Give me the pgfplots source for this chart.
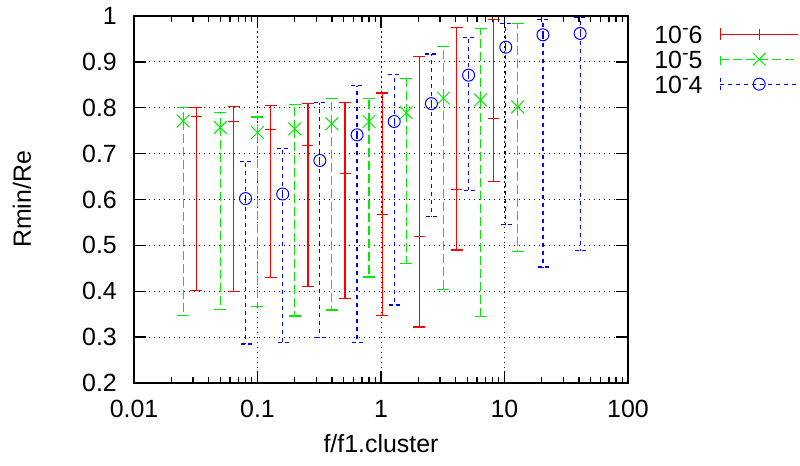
\documentclass[border=0pt]{standalone}
\usepackage{fontspec}
\setmainfont{Liberation Sans}
\usepackage{pgfplots}
\usepackage{pgfplotstable}
\pgfplotsset{compat=1.18}
\newcommand\fs{\fontsize{25}{30}\selectfont}
\newcommand\gpsup{\raisebox{0.36em}{\fontsize{20}{24}\selectfont -}}
\definecolor{gpgreen}{RGB}{0,235,0}
\pgfplotstableread{
x y lo hi
0.032 0.780 0.401 0.800
0.064 0.769 0.399 0.803
0.128 0.753 0.430 0.805
0.256 0.717 0.411 0.809
0.512 0.657 0.385 0.812
1.024 0.567 0.348 0.832
2.048 0.520 0.322 0.911
4.096 0.622 0.490 0.975
8.192 0.777 0.640 0.992
}\redtab
\pgfplotstableread{
x y lo hi
0.025 0.771 0.347 0.800
0.05 0.757 0.361 0.790
0.1 0.746 0.367 0.780
0.2 0.754 0.346 0.807
0.4 0.765 0.359 0.821
0.8 0.770 0.431 0.821
1.6 0.789 0.460 0.863
3.2 0.821 0.403 0.933
6.4 0.817 0.345 0.972
12.8 0.802 0.487 0.984
}\greentab
\pgfplotstableread{
x y lo hi
0.08 0.602 0.285 0.682
0.16 0.612 0.289 0.712
0.32 0.685 0.299 0.811
0.64 0.741 0.288 0.848
1.28 0.770 0.370 0.872
2.56 0.809 0.563 0.917
5.12 0.871 0.620 0.953
10.24 0.932 0.545 0.983
20.48 0.959 0.453 0.993
40.96 0.962 0.488 0.996
}\bluetab
\begin{document}
\begin{tikzpicture}[font=\fs]
\begin{axis}[
  scale only axis, width=494bp, height=367bp,
  xmode=log, xmin=0.01, xmax=100, ymin=0.2, ymax=1,
  xtick={0.01,0.1,1,10,100}, xticklabels={0.01,0.1,1,10,100},
  minor xtick={0.02,0.03,0.04,0.05,0.06,0.07,0.08,0.09,0.2,0.3,0.4,0.5,0.6,0.7,0.8,0.9,2,3,4,5,6,7,8,9,20,30,40,50,60,70,80,90},
  ytick={0.2,0.3,0.4,0.5,0.6,0.7,0.8,0.9,1}, yticklabels={0.2,0.3,0.4,0.5,0.6,0.7,0.8,0.9,1},
  grid=major, major grid style={black, line width=0.8bp, dash pattern=on 1.5bp off 3.5bp},
  axis line style={black, line width=1.6bp},
  major tick length=12bp, minor tick length=6bp,
  every tick/.style={black, line width=1.3bp},
  tick label style={font=\fs, inner sep=0pt},
  xticklabel style={yshift=-17bp}, yticklabel style={xshift=-17bp},
  every axis x label/.style={at={(rel axis cs:0.5,0)}, anchor=base, yshift=-69bp, inner sep=0pt, font=\fs},
  every axis y label/.style={at={(rel axis cs:0,0.5)}, rotate=90, anchor=base, yshift=103bp, inner sep=0pt, font=\fs},
  xlabel={f/f1.cluster}, ylabel={Rmin/Re},
  clip=false,
  legend plot pos=right, legend cell align=right,
  legend image code/.code={\draw[#1, sharp plot, mark repeat=2, mark phase=2] plot coordinates {(0bp,0bp) (39bp,0bp) (78bp,0bp)}; \draw[#1] (0bp,-6bp) -- (0bp,6bp);},
  legend style={draw=none, fill=none, at={(1.047,0.981)}, anchor=north west, font=\fs,
    row sep=7bp, column sep=17bp, nodes={inner sep=0pt, text height=18bp, text depth=0pt}},
]
\addplot[color=red, line width=1.2bp, only marks, mark=+, mark size=5.5bp, mark options={solid, line width=1bp},
  error bars/.cd, y dir=both, y explicit,
  error bar style={line width=1.2bp, solid},
  error mark options={rotate=90, mark size=6bp, line width=1.2bp, solid}]
  table[x=x, y=y, y error plus expr=\thisrow{hi}-\thisrow{y}, y error minus expr=\thisrow{y}-\thisrow{lo}] {\redtab};
\addlegendentry{10\gpsup6}
\addplot[color=gpgreen, line width=1.2bp, dash pattern=on 9bp off 4bp, only marks, mark=x, mark size=9bp, mark options={solid, line width=1bp},
  error bars/.cd, y dir=both, y explicit,
  error bar style={line width=1.2bp, dash pattern=on 9bp off 4bp},
  error mark options={rotate=90, mark size=6bp, line width=1.2bp, solid}]
  table[x=x, y=y, y error plus expr=\thisrow{hi}-\thisrow{y}, y error minus expr=\thisrow{y}-\thisrow{lo}] {\greentab};
\addlegendentry{10\gpsup5}
\addplot[color=blue, line width=1.2bp, dash pattern=on 4bp off 4bp, only marks, mark=o, mark size=6bp, mark options={solid, line width=1bp},
  error bars/.cd, y dir=both, y explicit,
  error bar style={line width=1.2bp, dash pattern=on 4bp off 4bp},
  error mark options={rotate=90, mark size=6bp, line width=1.2bp, dash pattern=on 4bp off 3bp}]
  table[x=x, y=y, y error plus expr=\thisrow{hi}-\thisrow{y}, y error minus expr=\thisrow{y}-\thisrow{lo}] {\bluetab};
\addlegendentry{10\gpsup4}
\end{axis}
\pgfresetboundingbox
\path (-134bp,-83bp) rectangle (666bp,383bp);
\end{tikzpicture}
\end{document}
